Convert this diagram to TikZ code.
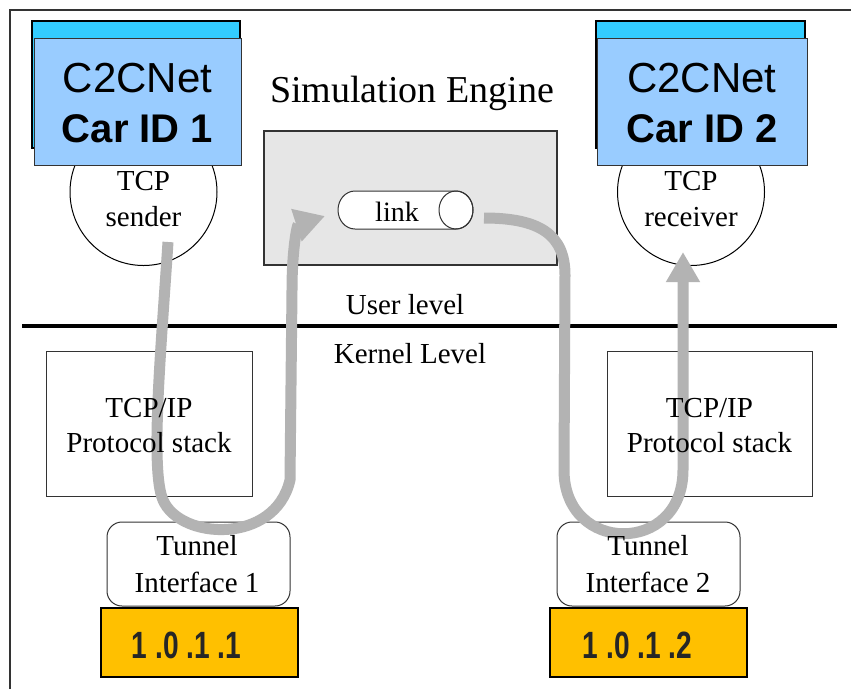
\documentclass[tikz,border=0pt]{standalone}
\usepackage{fontspec}
\setmainfont{Liberation Serif}
\newfontfamily\arialfont{Liberation Sans}
\usetikzlibrary{arrows.meta}

\definecolor{cartop}{HTML}{33CCFF}
\definecolor{carbody}{HTML}{99CCFF}
\definecolor{enginefill}{HTML}{E6E6E6}
\definecolor{flowgrey}{HTML}{B3B3B3}
\definecolor{addrfill}{HTML}{FFC000}
\definecolor{edgegrey}{HTML}{333333}
\definecolor{addrtext}{HTML}{262626}

\tikzset{
  lbl/.style={font=\fontsize{29}{35}\selectfont, anchor=base, inner sep=0pt},
  cartext/.style={font=\arialfont\fontsize{42}{48}\selectfont, anchor=base, inner sep=0pt},
  carid/.style={font=\arialfont\bfseries\fontsize{40}{48}\selectfont, anchor=base, inner sep=0pt},
  cartopbar/.style={fill=cartop, draw=black, line width=1.5pt},
  carbox/.style={draw=edgegrey, fill=carbody, line width=1pt, inner sep=0pt},
  endpoint/.style={circle, draw=black, fill=white, line width=1pt, inner sep=0pt, minimum size=147pt},
  plainbox/.style={draw=edgegrey, line width=1pt, inner sep=0pt},
  tunnelbox/.style={draw=edgegrey, fill=white, line width=1pt, rounded corners=15pt, inner sep=0pt},
  addrbox/.style={draw=black, fill=addrfill, line width=2pt, inner sep=0pt},
  addrlbl/.style={font=\arialfont\bfseries\fontsize{38}{42}\selectfont, text=addrtext, xscale=0.74, inner sep=0pt},
  flow/.style={draw=flowgrey, line width=11pt, -{Triangle[length=30pt,width=32pt]}},
}

\begin{document}
\begin{tikzpicture}[x=1pt,y=1pt]
\useasboundingbox (0,0) rectangle (851,-689);
\fill[white] (0,0) rectangle (851,-689);

% outer frame (left and top edges)
\draw[edgegrey, line width=1.5pt] (10,-689) -- (10,-10) -- (851,-10);

% TCP end points
\node[endpoint] (sender) at (143.5,-192) {};
\node[endpoint] (receiver) at (691,-192) {};

% C2CNet car windows
\draw[cartopbar] (32,-21) rectangle (240,-148);
\node[carbox, minimum width=207pt, minimum height=127pt] (car1) at (137.5,-101.5) {};
\node[cartext] (car1a) at (137.5,-92) {C2CNet};
\node[carid] (car1b) at (137.5,-142) {Car ID 1};

\draw[cartopbar] (596,-21) rectangle (805,-148);
\node[carbox, minimum width=210pt, minimum height=127pt] (car2) at (702,-101.5) {};
\node[cartext] (car2a) at (702,-92) {C2CNet};
\node[carid] (car2b) at (702,-142) {Car ID 2};

% simulation engine with its link
\node[font=\fontsize{38}{44}\selectfont, anchor=base, inner sep=0pt] (simtitle) at (412,-102) {Simulation Engine};
\node[draw=edgegrey, fill=enginefill, line width=1.5pt, minimum width=293pt, minimum height=134pt, inner sep=0pt] (engine) at (410.5,-198) {};

\filldraw[fill=white, draw=edgegrey, line width=1pt]
  (355,-191) -- (456,-191)
  arc[start angle=90, end angle=-90, x radius=17, y radius=19]
  -- (355,-229)
  arc[start angle=270, end angle=90, x radius=17, y radius=19] -- cycle;
\draw[edgegrey, line width=1pt] (456,-210) ellipse [x radius=17, y radius=19];
\node[minimum width=135pt, minimum height=38pt, inner sep=0pt] (link) at (405.5,-210) {};
\node[font=\fontsize{28}{34}\selectfont, anchor=base, inner sep=0pt] (linklbl) at (397,-221) {link};

% user / kernel separation
\coordinate (sepL) at (22,-326);
\coordinate (sepR) at (837,-326);
\draw[black, line width=4pt] (sepL) -- (sepR);
\node[lbl] (userlvl) at (405,-314) {User level};
\node[lbl] (kernellvl) at (410,-363) {Kernel Level};

% protocol stacks and tunnel interfaces (frames)
\node[plainbox, minimum width=206pt, minimum height=145pt] (stack1) at (149,-423.5) {};
\node[plainbox, minimum width=205pt, minimum height=145pt] (stack2) at (709.5,-423.5) {};
\node[tunnelbox, minimum width=183pt, minimum height=84pt] (tun1) at (198.5,-564) {};
\node[tunnelbox, minimum width=183pt, minimum height=84pt] (tun2) at (648.5,-564) {};

% addresses
\node[addrbox, minimum width=197pt, minimum height=69pt] (addr1) at (199.5,-642.5) {};
\node[addrlbl] (addr1lbl) at (186.5,-645) {1 .0 .1 .1};
\node[addrbox, minimum width=197pt, minimum height=69pt] (addr2) at (648.5,-642.5) {};
\node[addrlbl] (addr2lbl) at (637.5,-645) {1 .0 .1 .2};

% packet flow: sender -> tunnel 1 -> link
\coordinate (f1start) at (168,-242);
\coordinate (f1end) at (325,-216);
\draw[flow] (f1start)
  .. controls (161,-350) and (150,-470) .. (163,-500)
  .. controls (180,-540) and (275,-545) .. (290,-480)
  -- (292,-290)
  .. controls (292,-250) and (297,-225) .. (f1end);

% packet flow: link -> tunnel 2 -> receiver
\coordinate (f2start) at (484,-218);
\coordinate (f2end) at (683,-252);
\draw[flow] (f2start)
  .. controls (540,-218) and (565,-235) .. (565,-275)
  -- (564,-470)
  .. controls (564,-555) and (683,-555) .. (683,-470)
  -- (f2end);

% labels set above the flows
\node[lbl] (senderA) at (143.5,-190) {TCP};
\node[lbl] (senderB) at (143.5,-226) {sender};
\node[lbl] (receiverA) at (691,-190) {TCP};
\node[lbl] (receiverB) at (691,-226) {receiver};
\node[lbl] (stack1a) at (149,-417) {TCP/IP};
\node[lbl] (stack1b) at (149,-452) {Protocol stack};
\node[lbl] (stack2a) at (709.5,-417) {TCP/IP};
\node[lbl] (stack2b) at (709.5,-452) {Protocol stack};
\node[lbl] (tun1a) at (197,-555) {Tunnel};
\node[lbl] (tun1b) at (197,-592) {Interface 1};
\node[lbl] (tun2a) at (648,-555) {Tunnel};
\node[lbl] (tun2b) at (648,-592) {Interface 2};
\end{tikzpicture}
\end{document}
